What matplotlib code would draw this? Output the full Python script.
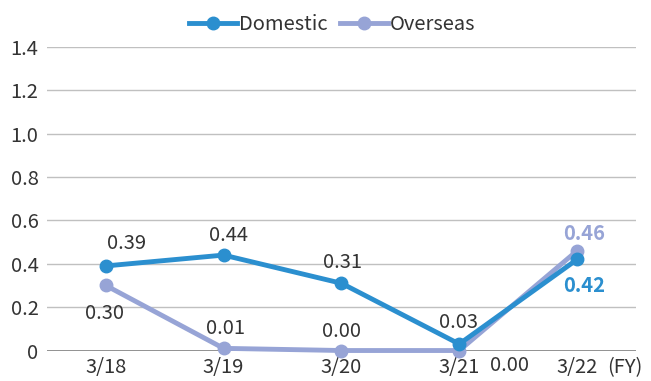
import numpy as np
import matplotlib
matplotlib.use("Agg")
import matplotlib.pyplot as plt

plt.rcParams['font.family'] = ['Noto Sans CJK JP', 'DejaVu Sans']

years = ["3/18", "3/19", "3/20", "3/21", "3/22"]
domestic = [0.39, 0.44, 0.31, 0.03, 0.42]
overseas = [0.30, 0.01, 0.00, 0.00, 0.46]

blue = "#2b8fcf"
lilac = "#97a4d6"
text_col = "#333333"
fs = 14.5

# label offsets in pixels (dx, dy) for each point
dom_off = [(21, 22), (5, 20), (1, 21), (-1, 22), (7, -26)]
ovs_off = [(-1, -28), (2, 20), (0, 19), (50, -15), (7, 17)]

fig = plt.figure(figsize=(6.51, 3.81), dpi=100)
ax = fig.add_axes([0.072, 0.08, 0.905, 0.797])

x = np.arange(len(years))
ax.plot(x, domestic, color=blue, lw=3.5, marker="o", ms=9, label="Domestic",
        clip_on=False, zorder=4)
ax.plot(x, overseas, color=lilac, lw=3.5, marker="o", ms=9, label="Overseas",
        clip_on=False, zorder=3)

for i, v in enumerate(domestic):
    last = i == len(years) - 1
    ax.annotate(f"{v:.2f}", (x[i], v), xytext=dom_off[i], textcoords="offset pixels",
                ha="center", va="center", fontsize=fs,
                color=blue if last else text_col,
                fontweight="bold" if last else "normal", zorder=6)
for i, v in enumerate(overseas):
    last = i == len(years) - 1
    ax.annotate(f"{v:.2f}", (x[i], v), xytext=ovs_off[i], textcoords="offset pixels",
                ha="center", va="center", fontsize=fs,
                color=lilac if last else text_col,
                fontweight="bold" if last else "normal", zorder=6)

ax.set_xlim(-0.5, len(years) - 0.5)
ax.set_ylim(0, 1.4)
yt = np.arange(0, 1.41, 0.2)
ax.set_yticks(yt)
ax.set_yticklabels(["0"] + [f"{t:.1f}" for t in yt[1:]])
ax.set_xticks(x)
ax.set_xticklabels(years)
ax.tick_params(axis="both", length=0, labelsize=fs, colors=text_col)
ax.tick_params(axis="y", pad=6)
ax.tick_params(axis="x", pad=5)

for s in ax.spines.values():
    s.set_visible(False)
for t in yt[1:]:
    ax.axhline(t, color="#c0c0c0", lw=1, zorder=0)
ax.axhline(0, color="#7f7f7f", lw=1.2, zorder=1)

# fiscal-year marker next to the last tick label
ax.annotate("(FY)", ax.get_xticklabels()[-1].get_position(), xycoords=("data", "axes fraction"),
            xytext=(48, -7), textcoords="offset pixels",
            ha="center", va="top", fontsize=fs, color=text_col,
            annotation_clip=False)

fig.legend(loc="upper center", bbox_to_anchor=(0.51, 1.01), ncol=2, frameon=False,
           fontsize=fs, handlelength=2.4, handletextpad=0.1, columnspacing=0.6,
           labelcolor=text_col)

fig.savefig("out.png", dpi=100)
